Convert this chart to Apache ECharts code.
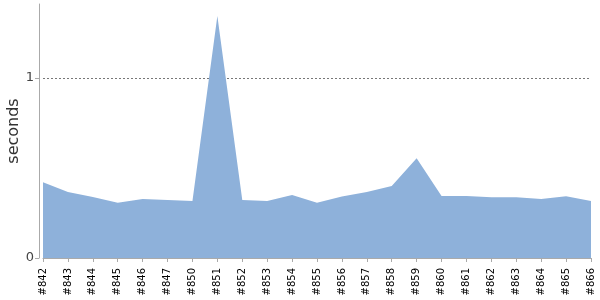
<!DOCTYPE html>
<html><head><meta charset="utf-8">
<script src="https://cdn.jsdelivr.net/npm/echarts@6/dist/echarts.min.js"></script>
<style>html,body{margin:0;padding:0;background:#fff}#c{width:600px;height:300px}</style>
</head><body><div id="c"></div>
<script>
const categories = ['#842','#843','#844','#845','#846','#847','#850','#851','#852','#853','#854','#855','#856','#857','#858','#859','#860','#861','#862','#863','#864','#865','#866'];
const seconds = [0.42,0.367,0.339,0.307,0.328,0.322,0.317,1.344,0.322,0.317,0.35,0.307,0.342,0.367,0.4,0.554,0.344,0.344,0.337,0.337,0.328,0.343,0.317];
const yTicks = [0, 1];

const chart = echarts.init(document.getElementById('c'), null, {renderer:'canvas'});
chart.setOption({
  animation: false,
  grid: {left: 43, right: 9, top: 4, bottom: 42, containLabel: false, outerBoundsMode: 'none'},
  xAxis: {
    type: 'category', data: categories, boundaryGap: false, offset: 4,
    axisLine: {lineStyle: {color: '#aaa'}},
    axisTick: {length: 4, lineStyle: {color: '#aaa'}},
    axisLabel: {rotate: 90, fontSize: 10, fontFamily: 'DejaVu Sans', color: '#000', margin: 6, interval: 0}
  },
  yAxis: {
    type: 'value', min: 0, max: 1.41, offset: 4,
    name: 'seconds', nameLocation: 'middle', nameGap: 17, nameMoveOverlap: false,
    nameTextStyle: {fontSize: 16, fontFamily: 'DejaVu Sans', color: '#333'},
    axisLine: {show: true, lineStyle: {color: '#aaa'}},
    axisTick: {show: true, length: 4, customValues: yTicks, lineStyle: {color: '#aaa'}},
    axisLabel: {customValues: yTicks, fontSize: 13, fontFamily: 'DejaVu Sans', color: '#444', margin: 5},
    splitLine: {show: true, lineStyle: {color: '#777', type: [2, 2], width: 1}}
  },
  series: [{
    type: 'line', data: seconds, symbol: 'none',
    lineStyle: {width: 0},
    areaStyle: {color: '#8EB1DA', opacity: 1}
  }]
});
</script></body></html>
